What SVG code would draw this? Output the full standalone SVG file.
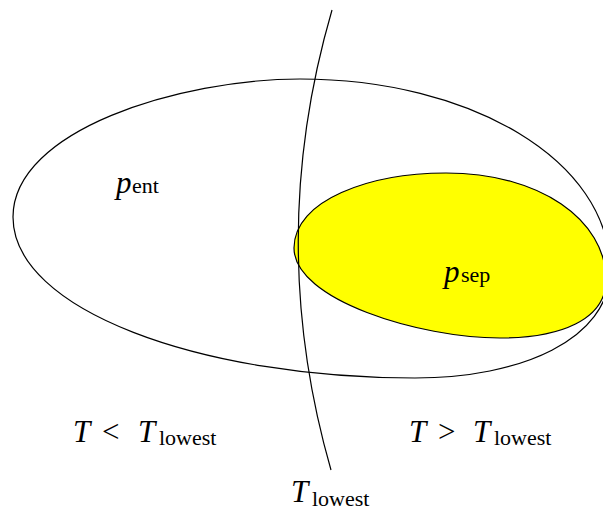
<svg xmlns="http://www.w3.org/2000/svg" width="603" height="512" viewBox="0 0 603 512">
<style>
.o{fill:none;stroke:#000;stroke-width:1.2}
.y{fill:#ffff00;stroke:#000;stroke-width:1.2}
text,tspan{font-family:"Liberation Serif","Times New Roman",serif;fill:#000}
.i{font-style:italic;font-size:31px}
.r{font-style:normal;font-size:31px}
.s{font-style:normal;font-size:22px}
</style>
<rect width="603" height="512" fill="#fff"/>
<g id="ent">
<path class="o" d="M13,217 C13,130 180,79 300,79 C470,79 610,160 610,270 C610,340 520,378 415,378 C200,378 13,310 13,217 Z"/>
</g>
<g id="sep">
<path class="y" d="M294,248 C294,200 370,173 446,173 C540,173 606,220 606,280 C606,320 560,338 500,338 C420,338 294,300 294,248 Z"/>
</g>
<g id="connectors">
<path class="o" d="M332,10 Q265,240 331,470"/>
</g>
<g id="labels">
<text y="193"><tspan class="i" x="116" font-size="30">p</tspan><tspan class="s" x="132" font-size="23">ent</tspan></text>
<text y="282"><tspan class="i" x="444" font-size="30">p</tspan><tspan class="s" x="461">sep</tspan></text>
<text y="442"><tspan class="i" x="73">T</tspan><tspan class="r" x="102">&lt;</tspan><tspan class="i" x="138">T</tspan><tspan class="s" x="159" y="445">lowest</tspan></text>
<text y="442"><tspan class="i" x="409">T</tspan><tspan class="r" x="438">&gt;</tspan><tspan class="i" x="473">T</tspan><tspan class="s" x="494" y="445">lowest</tspan></text>
<text y="502"><tspan class="i" x="291">T</tspan><tspan class="s" x="312" y="506">lowest</tspan></text>
</g>
</svg>
